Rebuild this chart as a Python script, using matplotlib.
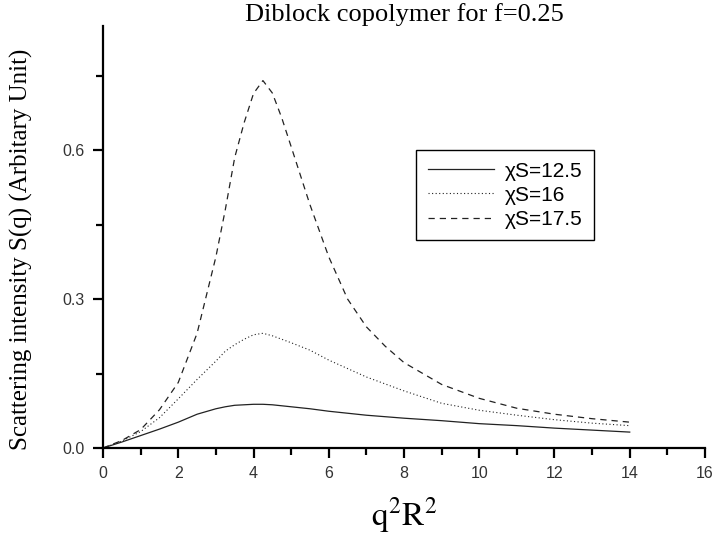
import matplotlib
matplotlib.use("Agg")
import matplotlib.pyplot as plt
from matplotlib.ticker import MultipleLocator

# q^2 R^2 grid and S(q)
x = [0, 0.5, 1, 1.5, 2, 2.5, 3, 3.25, 3.5, 3.75, 4, 4.25, 4.5, 4.75, 5,
     5.5, 6, 6.5, 7, 7.5, 8, 9, 10, 11, 12, 13, 14]
s_125 = [0, 0.012, 0.025, 0.038, 0.052, 0.068, 0.079, 0.083, 0.086, 0.087,
         0.088, 0.088, 0.087, 0.085, 0.083, 0.079, 0.074, 0.070, 0.066, 0.063,
         0.060, 0.055, 0.049, 0.045, 0.040, 0.036, 0.032]
s_16 = [0, 0.014, 0.033, 0.061, 0.099, 0.138, 0.175, 0.195, 0.208, 0.219,
        0.228, 0.231, 0.226, 0.219, 0.212, 0.197, 0.177, 0.160, 0.143, 0.129,
        0.115, 0.090, 0.076, 0.066, 0.057, 0.050, 0.045]
s_175 = [0, 0.015, 0.037, 0.077, 0.132, 0.231, 0.385, 0.480, 0.585, 0.655,
         0.714, 0.740, 0.715, 0.665, 0.607, 0.490, 0.385, 0.300, 0.244, 0.205,
         0.172, 0.128, 0.100, 0.080, 0.068, 0.059, 0.052]
labels = ["\u03c7S=12.5", "\u03c7S=16", "\u03c7S=17.5"]

plt.rcParams['mathtext.fontset'] = 'stix'

fig = plt.figure(figsize=(7.16, 5.4), dpi=100)
ax = fig.add_axes([0.1439, 0.1704, 0.8407, 0.7815])

ax.plot(x, s_125, color='#222222', lw=0.9, ls='-', label=labels[0])
ax.plot(x, s_16, color='#222222', lw=0.8, ls=(0, (1, 2.2)), label=labels[1])
ax.plot(x, s_175, color='#222222', lw=0.9, ls=(0, (5, 4)), label=labels[2])

ax.set_xlim(0, 16)
ax.set_ylim(0, 0.85)
ax.xaxis.set_major_locator(MultipleLocator(2))
ax.xaxis.set_minor_locator(MultipleLocator(1))
ax.yaxis.set_major_locator(MultipleLocator(0.3))
ax.yaxis.set_minor_locator(MultipleLocator(0.15))
ax.yaxis.set_major_formatter(matplotlib.ticker.FormatStrFormatter('%.1f'))

for side in ['top', 'right']:
    ax.spines[side].set_visible(False)
for side in ['left', 'bottom']:
    ax.spines[side].set_linewidth(1.6)

ax.tick_params(which='major', direction='out', length=7, width=1.6,
               labelsize=11.5, labelcolor='#333333', pad=6)
ax.tick_params(which='minor', direction='out', length=5, width=1.6)
for t in ax.get_xticklabels() + ax.get_yticklabels():
    t.set_family('Liberation Sans')

ax.set_title('Diblock copolymer for f=0.25', family='Liberation Serif',
             fontsize=19, pad=3)
ax.set_xlabel(r'$\mathrm{q^2R^2}$', fontsize=24, labelpad=10)
ax.set_ylabel('Scattering intensity S(q) (Arbitary Unit)',
              family='Liberation Serif', fontsize=18)
ax.yaxis.set_label_coords(-0.117, 0.47)

leg = ax.legend(loc='upper left', bbox_to_anchor=(0.52, 0.706),
                borderaxespad=0, fancybox=False, framealpha=1,
                edgecolor='black', handlelength=3.2, handletextpad=0.5,
                borderpad=0.55, labelspacing=0.25,
                prop={'family': 'Liberation Sans', 'size': 15})
leg.get_frame().set_linewidth(1.0)

fig.savefig('out.png', dpi=100)
